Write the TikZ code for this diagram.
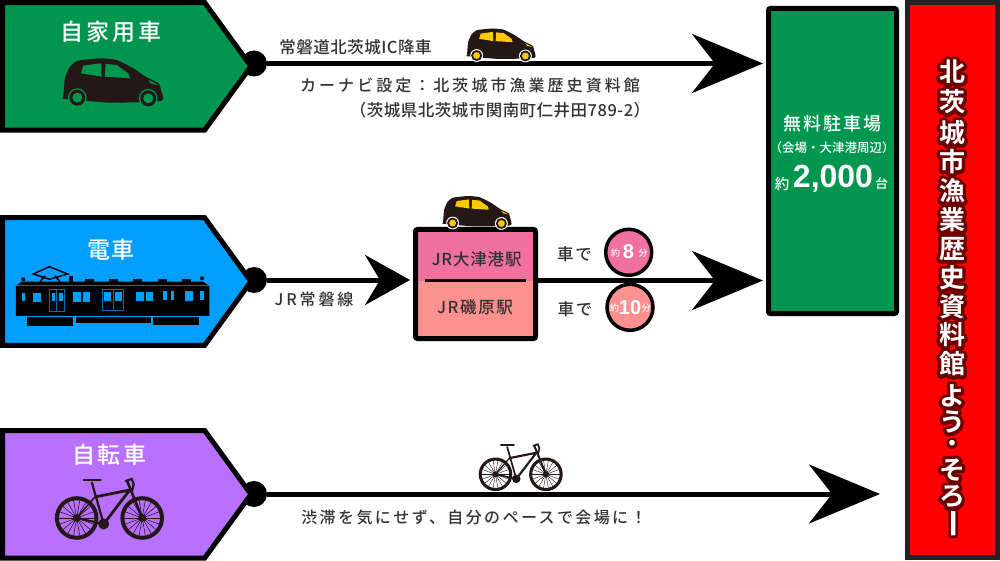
\documentclass[tikz,border=0pt]{standalone}
\usepackage{xcolor}
\usepackage{fontspec}
\setmainfont{Noto Sans CJK JP Medium}[BoldFont={Noto Sans CJK JP Bold}]
\newfontfamily\glowfont[FakeBold=26]{Noto Sans CJK JP Bold}
\newfontfamily\digitfont{Liberation Sans}
\usepackage{tikz}
\usetikzlibrary{positioning, arrows.meta, calc, fit, shapes.symbols}
\definecolor{cargreen}{HTML}{009650}
\definecolor{trainblue}{HTML}{009FFF}
\definecolor{bikepurple}{HTML}{B870FF}
\definecolor{stationpink}{HTML}{F0709F}
\definecolor{stationrose}{HTML}{FF9090}
\definecolor{carbody}{HTML}{231815}
\definecolor{carglass}{HTML}{FFC800}
\definecolor{inkgrey}{HTML}{333333}
\definecolor{glowred}{HTML}{6A0000}
\definecolor{panelgrey}{HTML}{222222}
\newcommand{\fs}[2]{\fontsize{#1}{#1}\selectfont\addfontfeatures{LetterSpace=#2}}
\newcommand{\roundglow}{\special{pdf:code 1 j .42 0 0 RG}}
\tikzset{
  tagnode/.style={signal, signal to=east, signal pointer angle=108, draw=black, line width=5pt, inner sep=0pt, minimum width=248.5pt, minimum height=127.5pt, anchor=west},
  dotnode/.style={circle, fill=black, minimum size=26pt, inner sep=0pt},
  label/.style={inner sep=0pt, text=inkgrey},
  whitelabel/.style={inner sep=0pt, text=white},
  roadline/.style={line width=5pt},
  bigarrow/.style={roadline, shorten >=3pt, -{Stealth[length=71pt, width=59pt, inset=23pt]}},
  smallarrow/.style={roadline, shorten >=3pt, -{Stealth[length=45pt, width=50pt, inset=15pt]}},
  stationpart/.style={inner sep=0pt, outer sep=0pt, minimum width=120pt},
  timenode/.style={circle, draw=black, line width=3.5pt, minimum size=46pt, inner sep=0pt},
  pics/carpic/.style n args={2}{code={
    \begin{scope}[shift={(-190,-175)}]
      \fill[carbody] plot[smooth cycle, tension=.3] coordinates {(190,292) (195,235) (210,200) (235,182) (300,175) (350,180) (400,205) (440,232) (476,250) (483,270) (484,303) (330,308) (190,296)};
      \fill[#1] (243,220) -- (250,197) -- (303,190) -- (305,230) -- cycle;
      \fill[#1] (317,192) -- (350,195) -- (385,220) -- (390,235) -- (315,230) -- cycle;
      \fill[#1] (445,240) -- (475,255) -- (452,251) -- cycle;
      \foreach \wheelx/\wheely in {232/293, 445/295} {
        \fill[#2] (\wheelx,\wheely) circle (28);
        \fill[carbody] (\wheelx,\wheely) circle (24);
        \fill[#1] (\wheelx,\wheely) circle (15);
      }
    \end{scope}
  }},
  pics/bikepic/.style={code={
    \foreach \hubx in {0,65.5} {
      \draw[carbody, line width=4pt*#1] (\hubx,0) circle (19.8);
      \foreach \ang in {0,20,...,340}
        \draw[carbody, line width=.55pt*#1] (\hubx,0) -- ++(\ang:20);
      \fill[carbody] (\hubx,0) circle (4);
    }
    \draw[carbody, line width=2.2pt*#1] (0,0) -- (27,6) -- (15,-36);
    \draw[carbody, line width=1.6pt*#1] (0,0) -- (18,-21);
    \draw[carbody, line width=2.8pt*#1] (18,-21) -- (53,-28) -- (27,6);
    \draw[carbody, line width=2.6pt*#1] (65.5,0) -- (50,-38);
    \draw[carbody, line width=2.2pt*#1, line cap=round] (7,-38) -- (24,-38);
    \draw[carbody, line width=2.2pt*#1, line cap=round] (49,-37) -- (55,-39) -- (57,-34) -- (55,-25);
    \fill[carbody] (27,6) circle (5.5);
  }}
}
\begin{document}
\begin{tikzpicture}[x=1pt, y=-1pt]
  \useasboundingbox (0,0) rectangle (1000,561);

  % right panel and parking
  \node[draw=panelgrey, fill=red, line width=5pt, outer sep=0pt, inner sep=0pt, minimum width=90pt, minimum height=555pt] (titlepanel) at (952.5,280) {};
  \node[draw=black, fill=cargreen, line width=5pt, rounded corners=2pt, inner sep=0pt, minimum width=128pt, minimum height=305pt] (parkbox) at (832.5,161) {};

  % dots and station
  \node[dotnode] (cardot) at (254,63.5) {};
  \node[dotnode] (traindot) at (254,280) {};
  \node[dotnode] (bikedot) at (254,494) {};
  \node[stationpart, fill=stationpink, minimum height=51pt] (stationtop) at (475.5,255) {};
  \node[stationpart, fill=stationrose, minimum height=58pt, below=0pt of stationtop] (stationlow) {};
  \node[fit=(stationtop)(stationlow), draw=black, line width=5pt, rounded corners=2pt, inner sep=0pt] (stationbox) {};
  \coordinate (bikeend) at (883,494);

  % connectors
  \draw[bigarrow] (cardot) -- (cardot -| parkbox.west);
  \draw[smallarrow] (traindot) -- (traindot -| stationbox.west);
  \draw[bigarrow] (stationtop.south -| stationbox.east) -- (stationtop.south -| parkbox.west);
  \draw[bigarrow] (bikedot) -- (bikeend);
  \draw[line width=2.5pt] ($(stationtop.south west)+(9.5,0)$) -- ($(stationtop.south east)+(-10,0)$);

  % tags
  \node[tagnode, fill=cargreen] (cartag) at (0,66.3) {};
  \node[tagnode, fill=trainblue] (traintag) at (0,281.5) {};
  \node[tagnode, fill=bikepurple] (biketag) at (0,494.3) {};

  % tag texts
  \node[whitelabel, font=\fs{23}{12}] (carname) at (111,32) {自家用車};
  \node[whitelabel, font=\fs{23}{8}] (trainname) at (111,250) {電車};
  \node[whitelabel, font=\fs{23}{10}] (bikename) at (109.5,455) {自転車};

  % vehicles
  \pic[scale=.3333] at (63.3,58.3) {carpic={cargreen}{cargreen}};
  \pic[scale=.229] at (467,28.5) {carpic={carglass}{white}};
  \pic[scale=.229] at (443,196) {carpic={carglass}{white}};
  \pic at (76.7,518) {bikepic=1};
  \pic[scale=.77] at (495.5,474.3) {bikepic=.77};

  % train
  \begin{scope}[shift={(0,210)}, x=.3333pt, y=-.3333pt]
    \fill[black] (48,228) -- (65,215) -- (610,215) -- (628,228) -- (628,318) -- (48,318) -- cycle;
    \fill[black] (80,320) rectangle (220,347);
    \fill[black] (228,320) rectangle (452,338);
    \fill[black] (460,320) rectangle (597,345);
    \draw[trainblue!70!black, line width=1.2pt] (48,226) -- (628,226);
    \foreach \ventx in {255,328,400,473,545}
      \fill[black] (\ventx,207) rectangle ++(27,8);
    \fill[black] (207,197) rectangle (220,215);
    \fill[black] (70,208) circle (6);
    \fill[black] (606,205) circle (6);
    \draw[black, line width=1.4pt] (100,192) -- (148,170) -- (203,192) -- (148,208) -- cycle;
    \draw[black, line width=1.6pt] (120,215) -- (135,198) (180,215) -- (165,198);
    \foreach \xa/\ya/\xb/\yb in {66/248/76/274, 100/248/122/276, 155/248/165/274, 178/248/188/274, 220/245/243/275, 248/245/270/275, 312/245/333/272, 345/245/367/272, 408/245/432/273, 437/245/460/273, 490/243/500/270, 513/243/523/270, 555/243/578/272, 600/243/611/270}
      \fill[trainblue] (\xa,\ya) rectangle (\xb,\yb);
    \draw[trainblue!70!black, line width=.7pt] (148,238) rectangle (192,304) (170,238) -- (170,304);
    \draw[trainblue!70!black, line width=.7pt] (307,237) rectangle (370,302) (339,237) -- (339,302);
  \end{scope}

  % route texts
  \node[label, font=\fs{16.5}{3}] (icexit) at (355.5,47) {常磐道北茨城IC降車};
  \node[label, font=\fs{16}{19}] (navitext) at (470,85) {カーナビ設定：北茨城市漁業歴史資料館};
  \node[label, font=\fs{16.5}{3}] (addresstext) at (500,110) {（茨城県北茨城市関南町仁井田789-2）};
  \node[label, font=\fs{16}{18}] (linename) at (314,299) {JR常磐線};
  \node[label, font=\fs{16}{15}] (biketext) at (474,517) {渋滞を気にせず、自分のペースで会場に！};

  % station texts
  \node[label, font=\fs{16.5}{5}] (ootsuname) at (476.5,259) {JR大津港駅};
  \node[label, font=\fs{16.5}{10}] (isoharaname) at (475,307) {JR磯原駅};
  \node[label, font=\fs{16.5}{12}] (bycara) at (574.5,254) {車で};
  \node[label, font=\fs{16.5}{12}] (bycarb) at (575,309) {車で};
  \node[timenode, fill=stationpink] (timea) at (628.7,252.3) {};
  \node[timenode, fill=stationrose] (timeb) at (630,307.3) {};
  \node[whitelabel, font=\fs{9}{0}] (timeaunit) at (615.5,253) {約};
  \node[whitelabel, font=\digitfont\bfseries\fontsize{20}{20}\selectfont] (timeanum) at (628.5,252) {8};
  \node[whitelabel, font=\fs{9}{0}] (timeamin) at (643,253) {分};
  \node[whitelabel, font=\fs{9}{0}] (timebunit) at (614.5,308.5) {約};
  \node[whitelabel, font=\digitfont\bfseries\fontsize{20}{20}\selectfont] (timebnum) at (630,307.5) {10};
  \node[whitelabel, font=\fs{9}{0}] (timebmin) at (646,308) {分};

  % parking texts
  \node[whitelabel, font=\fs{18}{10}] (parkname) at (832.5,124) {無料駐車場};
  \node[whitelabel, font=\fs{12.5}{0}] (parknote) at (832,148) {（会場・大津港周辺）};
  \node[whitelabel, font=\fs{14.5}{0}] (parkabout) at (782,184) {約};
  \node[whitelabel, font=\digitfont\bfseries\fontsize{32}{32}\selectfont] (parkcount) at (833,179) {2,000};
  \node[whitelabel, font=\fs{13}{0}] (parkunit) at (881.5,184) {台};

  % title
  \foreach \ch/\ypos/\chsize in {北/72/26, 茨/102/26, 城/133/26, 市/162/26, 漁/191/26, 業/220/26, 歴/249/26, 史/278/26, 資/307/26, 料/335/26, 館/364/26, よ/396/26, う/422/26, ・/446/22, そ/470/26, ろ/497/26}
    \node[inner sep=0pt, text=glowred, font=\glowfont\fontsize{\chsize}{\chsize}\selectfont] (glow\ypos) at (952,\ypos) {\roundglow\ch};
  \foreach \ch/\ypos/\chsize in {北/72/26, 茨/102/26, 城/133/26, 市/162/26, 漁/191/26, 業/220/26, 歴/249/26, 史/278/26, 資/307/26, 料/335/26, 館/364/26, よ/396/26, う/422/26, ・/446/22, そ/470/26, ろ/497/26}
    \node[inner sep=0pt, text=white, font=\bfseries\fontsize{\chsize}{\chsize}\selectfont] (title\ypos) at (952,\ypos) {\ch};
  \node[draw=glowred, fill=white, line width=2.5pt, rounded corners=1pt, inner sep=0pt, minimum width=7pt, minimum height=27pt] (titlebar) at (953,523) {};
\end{tikzpicture}
\end{document}
